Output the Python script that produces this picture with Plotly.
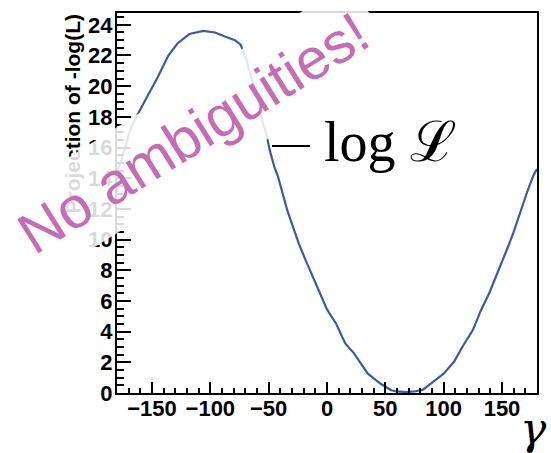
import plotly.graph_objects as go

# gamma (deg) and projection of -log(L)
gamma = [-180, -176, -172, -168, -162, -156, -150, -145, -139, -136, -128, -118,
         -106, -96, -88, -79, -74, -69, -65, -59, -55, -52, -49, -45, -42, -38,
         -34, -29, -24, -18, -12, -6, 0, 8, 13, 16, 23, 29, 35, 46, 55, 60, 68,
         75, 82, 89, 100, 109, 116, 125, 132, 139, 145, 149, 155, 160, 167, 172,
         177, 180]
nll = [14.4, 15.2, 16.3, 17.3, 18.2, 19.1, 19.9, 20.6, 21.6, 22.0, 22.8, 23.4,
       23.6, 23.5, 23.25, 23.0, 22.7, 21.7, 20.6, 19.1, 17.6, 16.9, 15.8, 14.7,
       14.1, 13.0, 11.9, 10.8, 9.7, 8.6, 7.6, 6.5, 5.45, 4.5, 3.65, 3.2, 2.6,
       1.9, 1.26, 0.6, 0.18, 0.1, 0.06, 0.1, 0.2, 0.61, 1.26, 2.05, 3.0, 4.1,
       5.4, 6.5, 7.6, 8.4, 9.5, 10.5, 12.1, 13.2, 14.2, 14.6]

x_ticks = [-150, -100, -50, 0, 50, 100, 150]
y_ticks = [0, 2, 4, 6, 8, 10, 12, 14, 16, 18, 20, 22, 24]

W, H = 551, 453
L, R, T, B = 117, 14, 13, 60
pw, ph = W - L - R, H - T - B


def px(x):
    return (x - L) / pw


def py(y):
    return (H - B - y) / ph


fig = go.Figure()
fig.add_trace(go.Scatter(x=gamma, y=nll, mode="lines",
                         line=dict(color="#3d5aa9", width=2.2),
                         showlegend=False, hoverinfo="skip"))

axis_common = dict(showgrid=False, zeroline=False, showline=True,
                   linecolor="black", linewidth=2, mirror=True,
                   ticks="inside", tickcolor="black", tickwidth=2,
                   tickfont=dict(family="Liberation Sans", size=22,
                                 color="black", weight="bold"))

fig.update_layout(
    width=W, height=H,
    margin=dict(l=L, r=R, t=T, b=B),
    paper_bgcolor="white", plot_bgcolor="white",
    xaxis=dict(range=[-180, 180], tickvals=x_ticks, ticklen=11,
               ticklabelstandoff=-5,
               minor=dict(dtick=10, ticks="inside", ticklen=5,
                          tickwidth=2, tickcolor="black"),
               **axis_common),
    yaxis=dict(range=[0, 24.77], tickvals=y_ticks, ticklen=14,
               ticklabelstandoff=-2,
               minor=dict(dtick=0.5, ticks="inside", ticklen=7,
                          tickwidth=2, tickcolor="black"),
               **axis_common),
)

# legend-like entry
fig.add_shape(type="line", xref="paper", yref="paper",
              x0=px(272), x1=px(310), y0=py(146), y1=py(146),
              line=dict(color="black", width=2))
fig.add_annotation(xref="paper", yref="paper", x=px(322), y=py(142),
                   xanchor="left", yanchor="middle", showarrow=False,
                   text="log ℒ",
                   font=dict(family="Liberation Serif", size=56, color="black"))

# y axis title
fig.add_annotation(xref="paper", yref="paper", x=px(72), y=py(13),
                   xanchor="center", yanchor="top", showarrow=False,
                   textangle=-90, text="Projection of -log(L)",
                   font=dict(family="Liberation Sans", size=21,
                             color="black", weight="bold"))

# x axis title
fig.add_annotation(xref="paper", yref="paper", x=px(549), y=py(401),
                   xanchor="right", yanchor="top", showarrow=False,
                   text="<i>γ</i>",
                   font=dict(family="DejaVu Serif", size=44, color="black"))

# watermark
fig.add_annotation(xref="paper", yref="paper", x=px(193), y=py(132),
                   xanchor="center", yanchor="middle", showarrow=False,
                   textangle=-32, text="No ambiguities!",
                   bgcolor="rgba(255,255,255,0.85)", borderpad=12,
                   font=dict(family="Liberation Sans", size=58,
                             color="#c76bb3"))

fig.write_html("out.html")
